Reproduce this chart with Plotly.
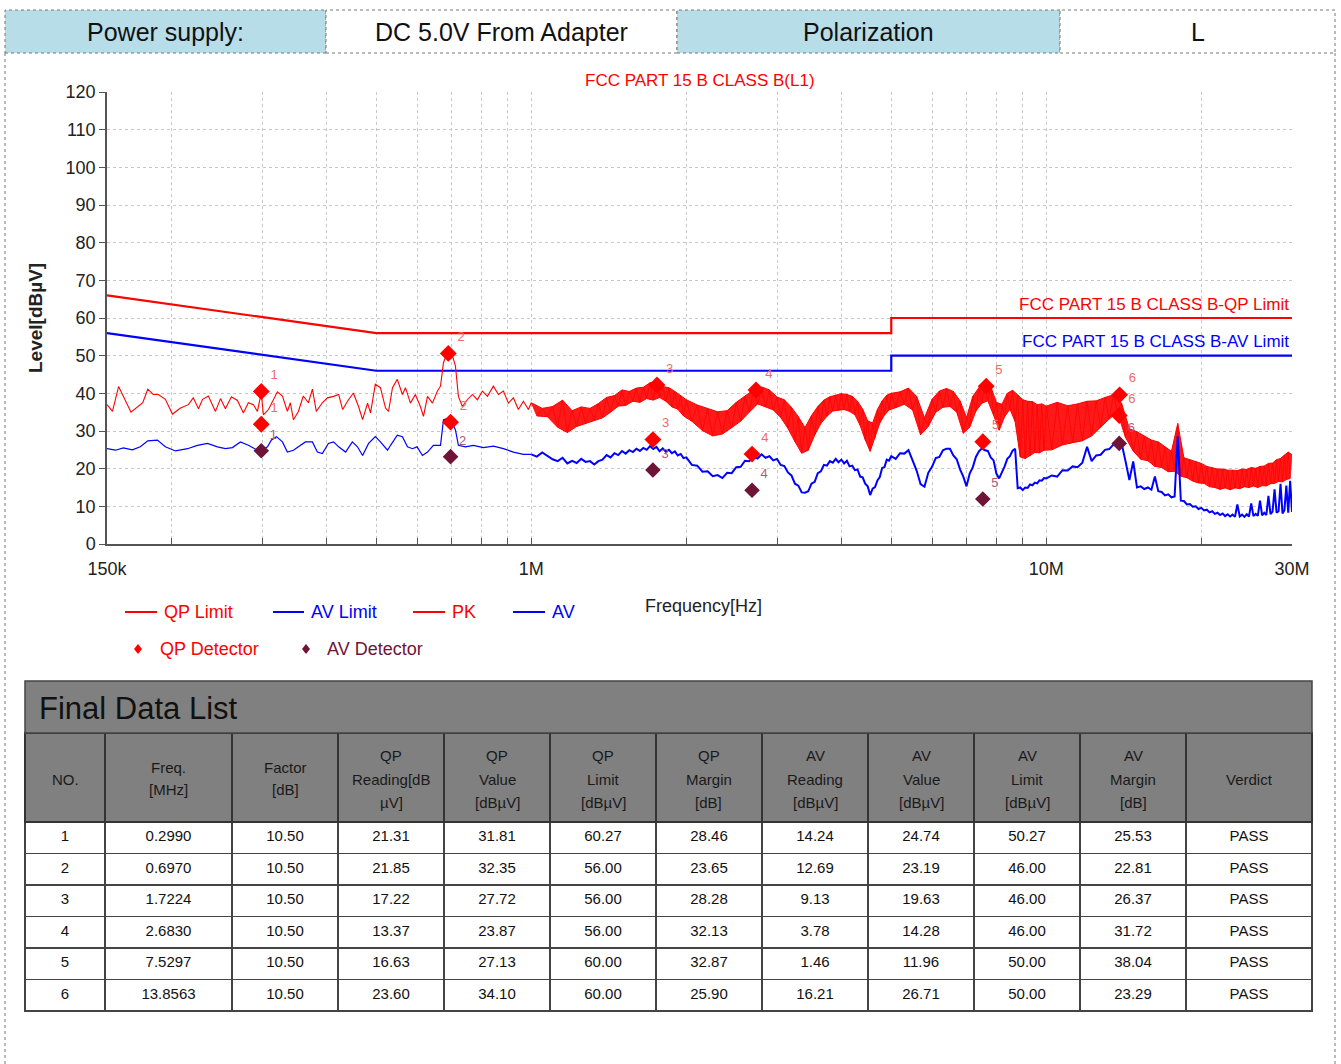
import plotly.graph_objects as go

W, H = 1341, 1064


def px(x):
    return x / W


def py(y):
    return 1 - y / H


# ---------------- header info ----------------
INFO_LABELS = ["Power supply:", "DC 5.0V From Adapter", "Polarization", "L"]

# ---------------- limits ----------------
LIMIT_FREQ_MHZ = [0.15, 0.5, 5.0, 5.0, 30.0]
QP_LIMIT_LEVEL = [66.0, 56.0, 56.0, 60.0, 60.0]
AV_LIMIT_LEVEL = [56.0, 46.0, 46.0, 50.0, 50.0]

# ---------------- scan traces below 1 MHz ----------------
PK_FREQ_LOW_MHZ = [0.150, 0.1537, 0.158, 0.1614, 0.167, 0.176, 0.180, 0.1845, 0.1887, 0.1947,
                   0.201, 0.2084, 0.2158, 0.2206, 0.2258, 0.230, 0.236, 0.2436, 0.2492, 0.2547,
                   0.2616, 0.2688, 0.276, 0.2822, 0.2887, 0.2939, 0.299, 0.3018, 0.3088, 0.3213,
                   0.3287, 0.336, 0.3405, 0.3452, 0.353, 0.3608, 0.3691, 0.3758, 0.3824, 0.3929,
                   0.4017, 0.4131, 0.4226, 0.4302, 0.4397, 0.4513, 0.4619, 0.4703, 0.4809, 0.4873,
                   0.4979, 0.5094, 0.5211, 0.5282, 0.5376, 0.5493, 0.562, 0.5697, 0.5825, 0.5954,
                   0.609, 0.6174, 0.6287, 0.6427, 0.6572, 0.6663, 0.6753, 0.6873, 0.6994, 0.7123,
                   0.7219, 0.7348, 0.751, 0.7684, 0.7858, 0.8033, 0.8219, 0.844, 0.8633, 0.8828,
                   0.9025, 0.9231, 0.9438, 0.9652, 0.987]
PK_LEVEL_LOW = [37.0, 35.2, 41.8, 39.3, 35.0, 37.5, 41.1, 39.7, 39.7, 38.4,
                34.5, 36.1, 37.0, 38.8, 35.9, 38.4, 39.3, 35.2, 38.6, 35.9,
                39.1, 38.1, 34.8, 37.5, 37.0, 35.2, 40.2, 34.3, 35.7, 40.4,
                39.3, 35.2, 37.5, 33.0, 35.2, 39.3, 37.5, 41.1, 35.2, 37.5,
                38.8, 39.2, 39.7, 35.7, 37.9, 40.1, 36.5, 33.0, 37.4, 34.8,
                42.4, 41.5, 36.1, 35.2, 41.5, 43.7, 39.7, 41.5, 37.4, 39.7,
                36.5, 33.9, 39.2, 37.4, 40.6, 41.9, 48.2, 50.9, 50.9, 47.3,
                39.2, 36.5, 38.3, 39.7, 38.3, 40.6, 39.2, 41.9, 39.7, 40.6,
                37.4, 38.8, 35.7, 37.9, 35.7]

AV_FREQ_LOW_MHZ = [0.150, 0.1558, 0.1614, 0.168, 0.1741, 0.180, 0.1879, 0.1947, 0.2037, 0.215,
                   0.2247, 0.2351, 0.2458, 0.2547, 0.2628, 0.2724, 0.2822, 0.2939, 0.299, 0.3074,
                   0.3129, 0.320, 0.3287, 0.336, 0.3452, 0.3561, 0.3641, 0.3758, 0.3842, 0.3929,
                   0.4036, 0.4131, 0.4226, 0.4359, 0.4492, 0.4597, 0.4703, 0.4831, 0.4979, 0.5094,
                   0.5258, 0.5329, 0.5493, 0.562, 0.5749, 0.5877, 0.600, 0.6146, 0.6287, 0.6455,
                   0.6663, 0.6753, 0.6904, 0.7026, 0.7123, 0.7219, 0.7445, 0.7719, 0.807, 0.844,
                   0.8828, 0.9231, 0.9652]
AV_LEVEL_LOW = [25.3, 24.9, 25.5, 25.0, 25.8, 27.4, 27.6, 25.8, 24.7, 25.3,
                26.2, 26.7, 25.8, 25.3, 25.6, 27.1, 26.2, 24.9, 24.9, 25.8,
                27.6, 28.5, 27.1, 24.4, 24.9, 26.2, 27.1, 27.1, 24.4, 24.0,
                26.7, 27.1, 25.8, 24.4, 27.1, 25.8, 23.5, 26.7, 28.5, 27.1,
                24.9, 26.2, 28.9, 28.5, 25.8, 25.3, 25.8, 23.5, 24.4, 26.2,
                26.2, 33.0, 33.4, 32.1, 30.3, 26.2, 25.8, 26.2, 25.6, 26.0,
                25.3, 24.4, 23.8]

# ---------------- scan traces 1 - 30 MHz ----------------
SCAN_FREQ_MHZ = [
    1.000, 1.025, 1.050, 1.075, 1.100, 1.125, 1.150, 1.175, 1.200, 1.225,
    1.250, 1.275, 1.300, 1.325, 1.350, 1.375, 1.400, 1.425, 1.450, 1.475,
    1.500, 1.525, 1.550, 1.575, 1.600, 1.625, 1.650, 1.675, 1.700, 1.725,
    1.750, 1.775, 1.800, 1.825, 1.850, 1.875, 1.900, 1.925, 1.950, 1.975,
    2.000,
    2.05, 2.10, 2.15, 2.20, 2.25, 2.30, 2.35, 2.40, 2.45, 2.50,
    2.55, 2.60, 2.65, 2.70, 2.75, 2.80, 2.85, 2.90, 2.95, 3.00,
    3.05, 3.10, 3.15, 3.20, 3.25, 3.30, 3.35, 3.40, 3.45, 3.50,
    3.55, 3.60, 3.65, 3.70, 3.75, 3.80, 3.85, 3.90, 3.95, 4.00,
    4.05, 4.10, 4.15, 4.20, 4.25, 4.30, 4.35, 4.40, 4.45, 4.50,
    4.55, 4.60, 4.65, 4.70, 4.75, 4.80, 4.85, 4.90, 4.95, 5.00,
    5.1, 5.2, 5.3, 5.4, 5.5, 5.6, 5.7, 5.8, 5.9, 6.0,
    6.1, 6.2, 6.3, 6.4, 6.5, 6.6, 6.7, 6.8, 6.9, 7.0,
    7.1, 7.2, 7.3, 7.4, 7.5, 7.6, 7.7, 7.8, 7.9, 8.0,
    8.1, 8.2, 8.3, 8.4, 8.5, 8.6, 8.7, 8.8, 8.9, 9.0,
    9.1, 9.2, 9.3, 9.4, 9.5, 9.6, 9.7, 9.8, 9.9, 10.0,
    10.25, 10.50, 10.75, 11.00, 11.25, 11.50, 11.75, 12.00, 12.25, 12.50,
    12.75, 13.00, 13.25, 13.50, 13.75, 14.00, 14.25, 14.50, 14.75, 15.00,
    15.25, 15.50, 15.75, 16.00, 16.25, 16.50, 16.75, 17.00, 17.25, 17.50,
    17.75, 18.00, 18.25, 18.50, 18.75, 19.00, 19.25, 19.50, 19.75, 20.00,
    20.25, 20.50, 20.75, 21.00, 21.25, 21.50, 21.75, 22.00, 22.25, 22.50,
    22.75, 23.00, 23.25, 23.50, 23.75, 24.00, 24.25, 24.50, 24.75, 25.00,
    25.25, 25.50, 25.75, 26.00, 26.25, 26.50, 26.75, 27.00, 27.25, 27.50,
    27.75, 28.00, 28.25, 28.50, 28.75, 29.00, 29.25, 29.50, 29.75, 30.00]

# PK scan values alternate between the top and the bottom of the noise band
PK_LEVEL_SCAN = [
    37.5, 34.0, 36.0, 33.8, 36.5, 31.0, 38.2, 29.6, 35.4, 31.2,
    36.4, 32.0, 36.0, 32.9, 37.3, 33.5, 38.9, 35.0, 39.4, 36.6,
    40.9, 36.8, 40.5, 37.9, 41.4, 37.6, 41.6, 38.6, 42.8, 38.2,
    43.1, 38.9, 41.8, 37.9, 41.5, 36.4, 40.5, 35.8, 39.4, 34.0,
    38.3,
    32.6, 36.9, 30.1, 35.9, 28.7, 35.1, 29.2, 35.4, 30.9, 37.6,
    32.6, 39.3, 35.0, 40.9, 37.2, 41.7, 36.4, 40.9, 35.6, 39.0,
    33.6, 38.3, 30.7, 36.3, 27.2, 33.8, 24.1, 30.9, 24.9, 34.1,
    28.9, 36.5, 32.0, 38.2, 33.9, 39.1, 35.3, 39.6, 35.6, 39.9,
    35.7, 39.7, 35.2, 39.2, 34.3, 37.9, 31.5, 35.8, 27.7, 32.7,
    24.6, 32.1, 28.1, 35.7, 32.1, 38.0, 34.2, 39.5, 35.6, 40.0,
    36.2, 40.4, 37.1, 41.4, 35.6, 39.2, 29.0, 33.5, 31.2, 38.4,
    35.0, 40.6, 36.3, 41.3, 36.5, 40.5, 35.0, 38.0, 29.4, 33.6,
    31.0, 39.2, 35.3, 41.5, 37.4, 42.7, 38.0, 41.8, 34.2, 37.6,
    30.2, 37.1, 33.8, 40.0, 35.8, 40.8, 32.5, 39.6, 23.1, 38.3,
    22.7, 37.9, 23.4, 37.8, 24.3, 37.0, 24.2, 37.2, 24.9, 36.6,
    25.0, 37.6, 26.3, 36.7, 26.9, 37.2, 27.4, 37.9, 28.7, 38.0,
    31.0, 38.9, 33.2, 39.6, 34.9, 37.4, 28.3, 30.6, 24.7, 29.8,
    22.5, 28.6, 22.1, 27.6, 20.6, 27.1, 20.3, 25.8, 19.2, 24.6,
    19.3, 32.0, 18.0, 22.9, 17.6, 22.4, 16.7, 21.8, 16.2, 21.4,
    16.1, 20.6, 15.2, 20.3, 15.0, 19.9, 14.5, 19.9, 14.9, 19.6,
    14.4, 19.6, 14.9, 19.5, 14.7, 19.9, 15.2, 19.8, 15.0, 20.3,
    15.4, 20.1, 15.0, 20.6, 15.5, 20.7, 15.4, 21.4, 16.0, 21.5,
    16.1, 22.4, 16.6, 22.7, 16.5, 23.6, 17.1, 24.4, 17.4, 23.7]

AV_LEVEL_SCAN = [
    23.8, 23.2, 24.3, 23.4, 22.5, 22.0, 22.9, 21.4, 22.1, 21.5,
    22.6, 21.8, 22.0, 21.1, 22.0, 22.4, 23.6, 23.0, 24.1, 23.6,
    24.7, 24.0, 24.9, 24.4, 25.3, 24.7, 25.5, 25.0, 26.0, 25.2,
    25.8, 24.6, 25.4, 24.5, 25.0, 24.1, 24.6, 23.5, 23.9, 22.8,
    23.0,
    21.0, 20.8, 19.2, 19.3, 18.0, 18.3, 17.5, 18.9, 18.8, 20.4,
    20.5, 22.1, 22.0, 23.2, 22.7, 23.8, 22.9, 23.3, 22.2, 22.6,
    21.0, 20.7, 19.0, 18.2, 16.0, 15.5, 13.7, 13.6, 14.0, 16.0,
    16.5, 18.8, 19.3, 21.0, 20.8, 22.0, 21.6, 22.6, 21.7, 22.4,
    21.4, 22.1, 20.6, 20.8, 19.6, 19.8, 17.9, 17.7, 16.0, 15.3,
    13.0, 14.7, 15.1, 16.9, 17.8, 20.2, 20.4, 22.4, 22.1, 23.3,
    22.6, 24.1, 24.0, 24.9, 22.2, 19.5, 15.9, 15.2, 18.9, 20.5,
    22.8, 23.1, 24.9, 25.3, 25.3, 23.5, 22.5, 19.8, 17.9, 15.3,
    18.7, 20.4, 23.1, 24.6, 25.4, 24.9, 24.7, 23.0, 22.2, 18.7,
    17.4, 18.9, 20.6, 22.6, 23.3, 24.8, 25.3, 14.8, 15.0, 14.3,
    15.0, 14.9, 15.8, 15.6, 16.3, 16.1, 16.9, 16.8, 17.5, 17.4,
    18.2, 17.9, 19.6, 19.5, 20.6, 20.4, 21.6, 25.8, 22.0, 23.5,
    23.7, 25.0, 25.2, 26.4, 26.6, 26.8, 22.0, 17.0, 21.9, 15.0,
    15.3, 14.6, 15.0, 14.4, 17.9, 14.0, 13.8, 12.9, 13.2, 12.4,
    12.6, 28.6, 11.5, 11.4, 10.5, 10.6, 9.9, 10.0, 9.3, 9.6,
    8.9, 9.1, 8.4, 8.7, 8.0, 8.3, 7.7, 8.1, 7.4, 7.9,
    7.3, 7.8, 7.2, 10.5, 7.3, 7.8, 7.2, 7.9, 7.3, 10.8,
    7.4, 8.0, 7.5, 11.5, 7.6, 8.3, 7.7, 12.8, 7.9, 8.6,
    14.5, 8.3, 8.7, 16.0, 8.1, 9.0, 15.5, 8.3, 16.8, 8.5]

# ---------------- final data list ----------------
NO = [1, 2, 3, 4, 5, 6]
FREQ_MHZ = [0.2990, 0.6970, 1.7224, 2.6830, 7.5297, 13.8563]
FACTOR_DB = [10.50, 10.50, 10.50, 10.50, 10.50, 10.50]
QP_READING = [21.31, 21.85, 17.22, 13.37, 16.63, 23.60]
QP_VALUE = [31.81, 32.35, 27.72, 23.87, 27.13, 34.10]
QP_LIMIT = [60.27, 56.00, 56.00, 56.00, 60.00, 60.00]
QP_MARGIN = [28.46, 23.65, 28.28, 32.13, 32.87, 25.90]
AV_READING = [14.24, 12.69, 9.13, 3.78, 1.46, 16.21]
AV_VALUE = [24.74, 23.19, 19.63, 14.28, 11.96, 26.71]
AV_LIMIT = [50.27, 46.00, 46.00, 46.00, 50.00, 50.00]
AV_MARGIN = [25.53, 22.81, 26.37, 31.72, 38.04, 23.29]
VERDICT = ["PASS", "PASS", "PASS", "PASS", "PASS", "PASS"]

# peak markers from the prescan (on the PK trace)
PEAK_FREQ_MHZ = [0.299, 0.690, 1.754, 2.731, 7.645, 13.88]
PEAK_LEVEL = [40.5, 50.6, 42.2, 40.9, 41.9, 39.6]
MARK_LABELS = ["1", "2", "3", "4", "5", "6"]

TABLE_HEADER = ["NO.", "Freq.<br>[MHz]", "Factor<br>[dB]", "QP<br>Reading[dB<br>µV]",
                "QP<br>Value<br>[dBµV]", "QP<br>Limit<br>[dBµV]", "QP<br>Margin<br>[dB]",
                "AV<br>Reading<br>[dBµV]", "AV<br>Value<br>[dBµV]", "AV<br>Limit<br>[dBµV]",
                "AV<br>Margin<br>[dB]", "Verdict"]

X_TICK_VALS = [0.15, 0.2, 0.3, 0.4, 0.5, 0.6, 0.7, 0.8, 0.9, 1, 2, 3, 4, 5, 6, 7, 8, 9, 10, 20, 30]
X_TICK_TEXT = ["150k", "", "", "", "", "", "", "", "", "1M", "", "", "", "", "", "", "", "", "10M", "", "30M"]

SANS = "Liberation Sans, Arial, sans-serif"
RED = "#FF0000"
BLUE = "#0000FF"
MAROON = "#6E1437"
SALMON = "#F06A6A"

fig = go.Figure()

fig.add_trace(go.Scatter(x=LIMIT_FREQ_MHZ, y=QP_LIMIT_LEVEL, mode="lines",
                         line=dict(color=RED, width=2.2), name="QP Limit"))
fig.add_trace(go.Scatter(x=LIMIT_FREQ_MHZ, y=AV_LIMIT_LEVEL, mode="lines",
                         line=dict(color=BLUE, width=2.2), name="AV Limit"))

# PK: below 1 MHz thin line; above 1 MHz dense band (top/bottom samples) filled between
fig.add_trace(go.Scatter(x=PK_FREQ_LOW_MHZ + SCAN_FREQ_MHZ[:1], y=PK_LEVEL_LOW + PK_LEVEL_SCAN[:1],
                         mode="lines", line=dict(color=RED, width=1.1), name="PK"))
fig.add_trace(go.Scatter(x=SCAN_FREQ_MHZ[0::2], y=PK_LEVEL_SCAN[0::2], mode="lines",
                         line=dict(color=RED, width=1), hoverinfo="skip", showlegend=False))
fig.add_trace(go.Scatter(x=SCAN_FREQ_MHZ[1::2], y=PK_LEVEL_SCAN[1::2], mode="lines",
                         line=dict(color=RED, width=1), fill="tonexty",
                         fillcolor="rgba(255,0,0,0.9)", hoverinfo="skip", showlegend=False))
fig.add_trace(go.Scatter(x=SCAN_FREQ_MHZ, y=PK_LEVEL_SCAN, mode="lines",
                         line=dict(color="rgba(255,0,0,0.9)", width=0.8), name="PK scan", showlegend=False))

fig.add_trace(go.Scatter(x=AV_FREQ_LOW_MHZ + SCAN_FREQ_MHZ[:1], y=AV_LEVEL_LOW + AV_LEVEL_SCAN[:1],
                         mode="lines", line=dict(color=BLUE, width=1.2), name="AV"))
fig.add_trace(go.Scatter(x=SCAN_FREQ_MHZ, y=AV_LEVEL_SCAN, mode="lines",
                         line=dict(color=BLUE, width=2), name="AV scan", showlegend=False))

fig.add_trace(go.Scatter(x=PEAK_FREQ_MHZ, y=PEAK_LEVEL, mode="markers+text", text=MARK_LABELS,
                         textposition="top right", textfont=dict(color=SALMON, size=13, family=SANS),
                         marker=dict(symbol="diamond", size=13, color=RED), name="PK Detector"))
fig.add_trace(go.Scatter(x=FREQ_MHZ, y=QP_VALUE, mode="markers+text", text=MARK_LABELS,
                         textposition="top right", textfont=dict(color=SALMON, size=13, family=SANS),
                         marker=dict(symbol="diamond", size=13, color=RED), name="QP Detector"))
fig.add_trace(go.Scatter(x=FREQ_MHZ, y=AV_VALUE, mode="markers+text", text=MARK_LABELS,
                         textposition="top right", textfont=dict(color="#B05A78", size=13, family=SANS),
                         marker=dict(symbol="diamond", size=12, color=MAROON), name="AV Detector"))

cols = [
    [str(n) for n in NO],
    [f"{v:.4f}" for v in FREQ_MHZ],
    [f"{v:.2f}" for v in FACTOR_DB],
    [f"{v:.2f}" for v in QP_READING],
    [f"{v:.2f}" for v in QP_VALUE],
    [f"{v:.2f}" for v in QP_LIMIT],
    [f"{v:.2f}" for v in QP_MARGIN],
    [f"{v:.2f}" for v in AV_READING],
    [f"{v:.2f}" for v in AV_VALUE],
    [f"{v:.2f}" for v in AV_LIMIT],
    [f"{v:.2f}" for v in AV_MARGIN],
    VERDICT,
]
COL_EDGES = [25, 105, 232, 338, 444, 550, 656, 762, 868, 974, 1080, 1186, 1312]
fig.add_trace(go.Table(
    domain=dict(x=[px(25), px(1312)], y=[py(1014), py(733)]),
    columnwidth=[COL_EDGES[i + 1] - COL_EDGES[i] for i in range(12)],
    header=dict(values=["" for _ in TABLE_HEADER], fill_color="#808080", line=dict(color="#333333", width=1.5),
                font=dict(family=SANS, size=15, color="#1a1a1a"), align="center", height=89),
    cells=dict(values=cols, fill_color="white", line=dict(color="#444444", width=1.5),
               font=dict(family=SANS, size=15, color="#111111"), align="center", height=31.5),
))

shapes = []
annotations = []

# header line texts of the table (one annotation per line for even spacing)
LINE_Y = {1: [779], 2: [767, 790], 3: [755, 779, 802]}
for i, htxt in enumerate(TABLE_HEADER):
    lines = htxt.split("<br>")
    cx = (COL_EDGES[i] + COL_EDGES[i + 1]) / 2
    for ln, yy in zip(lines, LINE_Y[len(lines)]):
        annotations.append(dict(xref="paper", yref="paper", x=px(cx), y=py(yy), text=ln, showarrow=False,
                                font=dict(family=SANS, size=15, color="#1a1a1a"),
                                xanchor="center", yanchor="middle"))

# header info row
edges = [5, 326, 677, 1060, 1335]
fills = ["#B7DDE8", "white", "#B7DDE8", "white"]
for i, lab in enumerate(INFO_LABELS):
    shapes.append(dict(type="rect", xref="paper", yref="paper", x0=px(edges[i]), x1=px(edges[i + 1]),
                       y0=py(53), y1=py(10), fillcolor=fills[i], line=dict(color="#777777", width=1, dash="dot"),
                       layer="below"))
    annotations.append(dict(xref="paper", yref="paper", x=px((edges[i] + edges[i + 1]) / 2), y=py(32),
                            text=lab, showarrow=False, font=dict(family=SANS, size=25, color="#111111"),
                            xanchor="center", yanchor="middle"))
# frame sides
for xe in (5, 1335):
    shapes.append(dict(type="line", xref="paper", yref="paper", x0=px(xe), x1=px(xe), y0=py(53), y1=py(1064),
                       line=dict(color="#777777", width=1, dash="dot")))

# final data list title bar
shapes.append(dict(type="rect", xref="paper", yref="paper", x0=px(25), x1=px(1312), y0=py(733), y1=py(681),
                   fillcolor="#808080", line=dict(color="#444444", width=1.5)))
annotations.append(dict(xref="paper", yref="paper", x=px(37), y=py(708), text="Final Data List", showarrow=False,
                        font=dict(family=SANS, size=31, color="#111111"), xanchor="left", yanchor="middle"))

# chart texts
annotations.append(dict(xref="paper", yref="paper", x=px(700), y=py(80), text="FCC PART 15 B CLASS B(L1)",
                        showarrow=False, font=dict(family=SANS, size=17, color=RED),
                        xanchor="center", yanchor="middle"))
annotations.append(dict(xref="paper", yref="paper", x=px(1291), y=py(304), text="FCC PART 15 B CLASS B-QP Limit",
                        showarrow=False, font=dict(family=SANS, size=17, color=RED),
                        xanchor="right", yanchor="middle"))
annotations.append(dict(xref="paper", yref="paper", x=px(1291), y=py(341), text="FCC PART 15 B CLASS B-AV Limit",
                        showarrow=False, font=dict(family=SANS, size=17, color=BLUE),
                        xanchor="right", yanchor="middle"))
annotations.append(dict(xref="paper", yref="paper", x=px(35), y=py(318), text="<b>Level[dBµV]</b>",
                        showarrow=False, textangle=-90, font=dict(family=SANS, size=19, color="#222222"),
                        xanchor="center", yanchor="middle"))
annotations.append(dict(xref="paper", yref="paper", x=px(643), y=py(606), text="Frequency[Hz]",
                        showarrow=False, font=dict(family=SANS, size=18, color="#222222"),
                        xanchor="left", yanchor="middle"))

# legend
legend_lines = [(125, 157, 612, RED, "QP Limit"), (273, 304, 612, BLUE, "AV Limit"),
                (413, 445, 612, RED, "PK"), (513, 545, 612, BLUE, "AV")]
for x0, x1, yy, col, lab in legend_lines:
    shapes.append(dict(type="line", xref="paper", yref="paper", x0=px(x0), x1=px(x1), y0=py(yy), y1=py(yy),
                       line=dict(color=col, width=2)))
    annotations.append(dict(xref="paper", yref="paper", x=px(x1 + 5), y=py(yy), text=lab, showarrow=False,
                            font=dict(family=SANS, size=18, color=col), xanchor="left", yanchor="middle"))
legend_marks = [(138, 649, RED, "QP Detector", 158), (306, 649, MAROON, "AV Detector", 325)]
for cx, cy, col, lab, tx in legend_marks:
    path = "M {} {} L {} {} L {} {} L {} {} Z".format(px(cx), py(cy - 5), px(cx + 4), py(cy), px(cx), py(cy + 5),
                                                       px(cx - 4), py(cy))
    shapes.append(dict(type="path", xref="paper", yref="paper", path=path, fillcolor=col, line=dict(color=col, width=0)))
    annotations.append(dict(xref="paper", yref="paper", x=px(tx), y=py(cy), text=lab, showarrow=False,
                            font=dict(family=SANS, size=18, color=col), xanchor="left", yanchor="middle"))

fig.update_layout(
    width=W, height=H, margin=dict(l=0, r=0, t=0, b=0, pad=0, autoexpand=False),
    paper_bgcolor="white", plot_bgcolor="white", showlegend=False,
    shapes=shapes, annotations=annotations,
    xaxis=dict(domain=[px(107), px(1292)], type="log", range=[-0.82391, 1.47712],
               tickvals=X_TICK_VALS, ticktext=X_TICK_TEXT, ticks="inside", ticklen=6, tickcolor="#555555",
               showline=True, linecolor="#555555", linewidth=1.5, showgrid=True, gridcolor="#C8C8C8",
               griddash="dot", gridwidth=1, zeroline=False, ticklabelstandoff=8,
               tickfont=dict(family=SANS, size=18, color="#222222")),
    yaxis=dict(domain=[py(544), py(92)], range=[0, 120], dtick=10, tick0=0, ticks="outside", ticklen=6,
               tickcolor="#555555", showline=True, linecolor="#555555", linewidth=1.5, showgrid=True,
               gridcolor="#C8C8C8", griddash="dot", gridwidth=1, zeroline=False,
               tickfont=dict(family=SANS, size=18, color="#222222")),
)

fig.write_html("out.html", config={"displayModeBar": False},
               post_script="document.body.style.margin='0';document.documentElement.style.overflow='hidden';")
